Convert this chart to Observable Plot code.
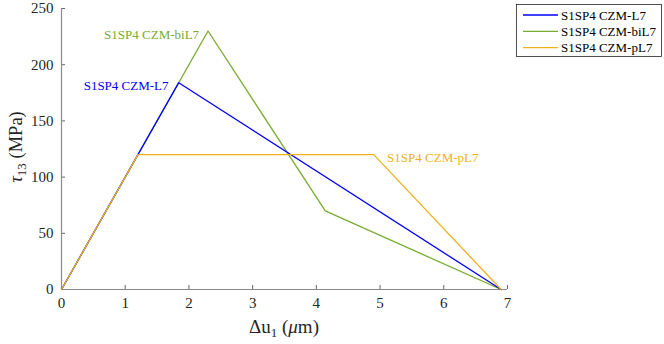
<!DOCTYPE html>
<html><head><meta charset="utf-8">
<script src="https://cdn.jsdelivr.net/npm/d3@7"></script>
<script src="https://cdn.jsdelivr.net/npm/@observablehq/plot@0.6"></script>
<style>
body{margin:0;background:#fff}
svg, svg text{font-family:'Liberation Serif','Times New Roman',serif !important}
</style>
</head><body><div id="chart"></div>
<script>
// Series
const seriesNames = ["S1SP4 CZM-L7", "S1SP4 CZM-biL7", "S1SP4 CZM-pL7"];
const seriesColors = ["#0000FF", "#77AC30", "#EDB120"];
const xL7 = [0, 1.84, 6.9];
const yL7 = [0, 184, 0];
const xBiL7 = [0, 2.3, 4.14, 6.9];
const yBiL7 = [0, 230, 70, 0];
const xPL7 = [0, 1.2, 4.9, 6.9];
const yPL7 = [0, 120, 120, 0];
// Ticks
const xTicks = [0, 1, 2, 3, 4, 5, 6, 7];
const yTicks = [0, 50, 100, 150, 200, 250];
// In-plot annotations (data coordinates)
const annText = ["S1SP4 CZM-L7", "S1SP4 CZM-biL7", "S1SP4 CZM-pL7"];
const annX = [1.68, 2.16, 5.11];
const annY = [181, 226.5, 117.5];
const annAnchor = ["end", "end", "start"];

const xs = [xL7, xBiL7, xPL7], ys = [yL7, yBiL7, yPL7];
const seriesRows = seriesNames.map((s, i) => xs[i].map((x, j) => ({series: s, x, y: ys[i][j]})));
const ann = annText.map((t, i) => ({text: t, x: annX[i], y: annY[i], anchor: annAnchor[i], color: seriesColors[i]}));
const drawOrder = [1, 0, 2]; // biL7 beneath, then L7, then pL7 on top

const W = 664, H = 344;
const FONT = "'Liberation Serif', 'Times New Roman', serif";
const plot = Plot.plot({
  width: W, height: H,
  marginLeft: 61, marginRight: 157, marginTop: 8, marginBottom: 55,
  style: {fontFamily: FONT, fontSize: "15px", color: "#262626", background: "white"},
  x: {domain: [0, 7]},
  y: {domain: [0, 250]},
  color: {domain: seriesNames, range: seriesColors},
  marks: [
    Plot.axisX({ticks: xTicks, tickFormat: d3.format("d"), tickSize: -4, tickPadding: 12, label: null, stroke: "#666", fill: "#262626", fontSize: 15}),
    Plot.axisY({ticks: yTicks, tickFormat: d3.format("d"), tickSize: -4, tickPadding: 12, label: null, stroke: "#666", fill: "#262626", fontSize: 15}),
    Plot.ruleY([0], {stroke: "#8a8a8a", strokeWidth: 1.2}),
    Plot.ruleX([0], {stroke: "#8a8a8a", strokeWidth: 1.2}),
    ...drawOrder.map(i => Plot.line(seriesRows[i], {x: "x", y: "y", stroke: "series", strokeWidth: 1.3})),
    ...ann.map(a => Plot.text([a], {x: "x", y: "y", text: "text", fill: a.color, textAnchor: a.anchor, fontSize: 13}))
  ]
});
document.getElementById("chart").appendChild(plot);

const svg = d3.select(plot);
// x label
const xl = svg.append("text").attr("x", 284).attr("y", 333).attr("text-anchor", "middle")
  .attr("font-size", 19).attr("fill", "#262626");
xl.append("tspan").text("Δu");
xl.append("tspan").attr("font-size", 13).attr("dy", 4).text("1");
xl.append("tspan").attr("dy", -4).text(" (");
xl.append("tspan").attr("font-style", "italic").text("μ");
xl.append("tspan").text("m)");
// y label
const yl = svg.append("text").attr("transform", "translate(22,147) rotate(-90)").attr("text-anchor", "middle")
  .attr("font-size", 18.5).attr("fill", "#262626");
yl.append("tspan").attr("font-style", "italic").text("τ");
yl.append("tspan").attr("font-size", 13).attr("dy", 4).text("13");
yl.append("tspan").attr("dy", -4).text(" (MPa)");

// legend
const lg = svg.append("g");
lg.append("rect").attr("x", 516.5).attr("y", 4.5).attr("width", 145).attr("height", 52)
  .attr("fill", "white").attr("stroke", "#262626").attr("stroke-width", 0.8);
seriesNames.forEach((s, i) => {
  const cy = 15 + i * 16.3;
  lg.append("line").attr("x1", 523).attr("x2", 558).attr("y1", cy).attr("y2", cy)
    .attr("stroke", seriesColors[i]).attr("stroke-width", 1.3);
  lg.append("text").attr("x", 561).attr("y", cy).attr("dy", "0.35em").attr("text-anchor", "start")
    .attr("font-size", 13).attr("fill", "#000").text(s);
});
</script>
</body></html>
